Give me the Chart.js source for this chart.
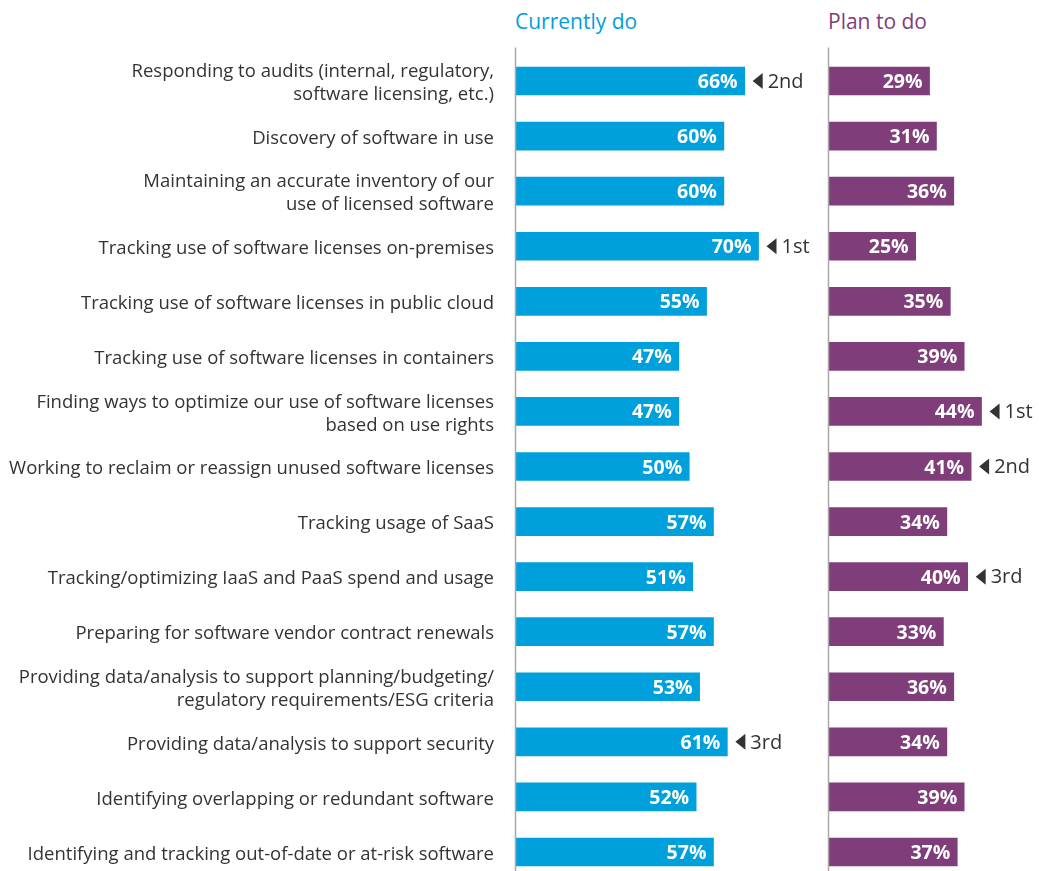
<!DOCTYPE html>
<html>
<head>
<meta charset="utf-8">
<script src="https://cdn.jsdelivr.net/npm/chart.js@4.4.1/dist/chart.umd.min.js"></script>
<style>
    html, body { margin: 0; padding: 0; background: #fff; overflow: hidden; }
    #wrap { position: relative; width: 1039px; height: 871px; overflow: hidden; }
    .head { position: absolute; top: 7px; font-family: "Open Sans", sans-serif; font-size: 21px; }
    #chart1Box { position: absolute; left: 0; top: 0; width: 820px; height: 930px; }
    #chart2Box { position: absolute; left: 815px; top: 0; width: 224px; height: 930px; }
</style>
</head>
<body>
<div id="wrap">
    <div class="head" style="left:515px;color:#00a0dc">Currently do</div>
    <div class="head" style="left:828px;color:#7f3d7a">Plan to do</div>
    <div id="chart1Box"><canvas id="chart1"></canvas></div>
    <div id="chart2Box"><canvas id="chart2"></canvas></div>
</div>
<script>
const categories = [
    ["Responding to audits (internal, regulatory,", "software licensing, etc.)"],
    "Discovery of software in use",
    ["Maintaining an accurate inventory of our", "use of licensed software"],
    "Tracking use of software licenses on-premises",
    "Tracking use of software licenses in public cloud",
    "Tracking use of software licenses in containers",
    ["Finding ways to optimize our use of software licenses", "based on use rights"],
    "Working to reclaim or reassign unused software licenses",
    "Tracking usage of SaaS",
    "Tracking/optimizing IaaS and PaaS spend and usage",
    "Preparing for software vendor contract renewals",
    ["Providing data/analysis to support planning/budgeting/", "regulatory requirements/ESG criteria"],
    "Providing data/analysis to support security",
    "Identifying overlapping or redundant software",
    "Identifying and tracking out-of-date or at-risk software",
];
const currentlyDo = [66, 60, 60, 70, 55, 47, 47, 50, 57, 51, 57, 53, 61, 52, 57];
const planToDo = [29, 31, 36, 25, 35, 39, 44, 41, 34, 40, 33, 36, 34, 39, 37];
const currentRanks = ["2nd", "", "", "1st", "", "", "", "", "", "", "", "", "3rd", "", ""];
const planRanks = ["", "", "", "", "", "", "1st", "2nd", "", "3rd", "", "", "", "", ""];

const FONT = "'Open Sans', sans-serif";

// draws the value inside each bar, the rank marker, and the gray axis line
const barLabels = {
    id: "barLabels",
    afterDatasetsDraw(chart, args, opts) {
        const ctx = chart.ctx;
        const area = chart.chartArea;
        ctx.save();
        ctx.strokeStyle = "#a8a8a8";
        ctx.lineWidth = 1.5;
        ctx.beginPath();
        ctx.moveTo(area.left - 0.5, area.top - 6);
        ctx.lineTo(area.left - 0.5, area.bottom);
        ctx.stroke();

        const meta = chart.getDatasetMeta(0);
        const values = chart.data.datasets[0].data;
        meta.data.forEach((bar, i) => {
            ctx.textBaseline = "middle";
            ctx.textAlign = "right";
            ctx.fillStyle = "#ffffff";
            ctx.font = "bold 19.5px " + FONT;
            ctx.fillText(values[i] + "%", bar.x - 7, bar.y + 1.5);
            const rank = opts.ranks[i];
            if (rank) {
                const tx = bar.x + 8;
                ctx.fillStyle = "#333333";
                ctx.beginPath();
                ctx.moveTo(tx, bar.y);
                ctx.lineTo(tx + 10, bar.y - 8);
                ctx.lineTo(tx + 10, bar.y + 8);
                ctx.closePath();
                ctx.fill();
                ctx.textAlign = "left";
                ctx.font = "20px " + FONT;
                ctx.fillText(rank, tx + 15, bar.y + 1);
            }
        });
        ctx.restore();
    },
};

function makeChart(id, values, color, max, ranks, showLabels, padLeft, padRight) {
    const ctx = document.getElementById(id).getContext("2d");
    return new Chart(ctx, {
        type: "bar",
        data: {
            labels: categories,
            datasets: [
                {
                    data: values,
                    backgroundColor: color,
                    barThickness: 28,
                },
            ],
        },
        options: {
            indexAxis: "y",
            responsive: true,
            maintainAspectRatio: false,
            animation: false,
            layout: {
                padding: { top: 53.5, bottom: 50.5, left: padLeft, right: padRight },
            },
            plugins: {
                legend: { display: false },
                tooltip: { enabled: false },
                barLabels: { ranks: ranks },
            },
            scales: {
                x: {
                    display: false,
                    min: 0,
                    max: max,
                },
                y: {
                    display: showLabels,
                    grid: { display: false },
                    border: { display: false },
                    ticks: {
                        color: "#333333",
                        padding: 14,
                        labelOffset: 2.5,
                        font: { family: FONT, size: 18.5, lineHeight: 1.25 },
                    },
                    afterFit: (scale) => {
                        if (showLabels) scale.width = 516;
                    },
                },
            },
        },
        plugins: [barLabels],
    });
}

makeChart("chart1", currentlyDo, "#00a0dc", 85, currentRanks, true, 0, 9.5);
makeChart("chart2", planToDo, "#7f3d7a", 60, planRanks, false, 14, 2);
</script>
</body>
</html>
